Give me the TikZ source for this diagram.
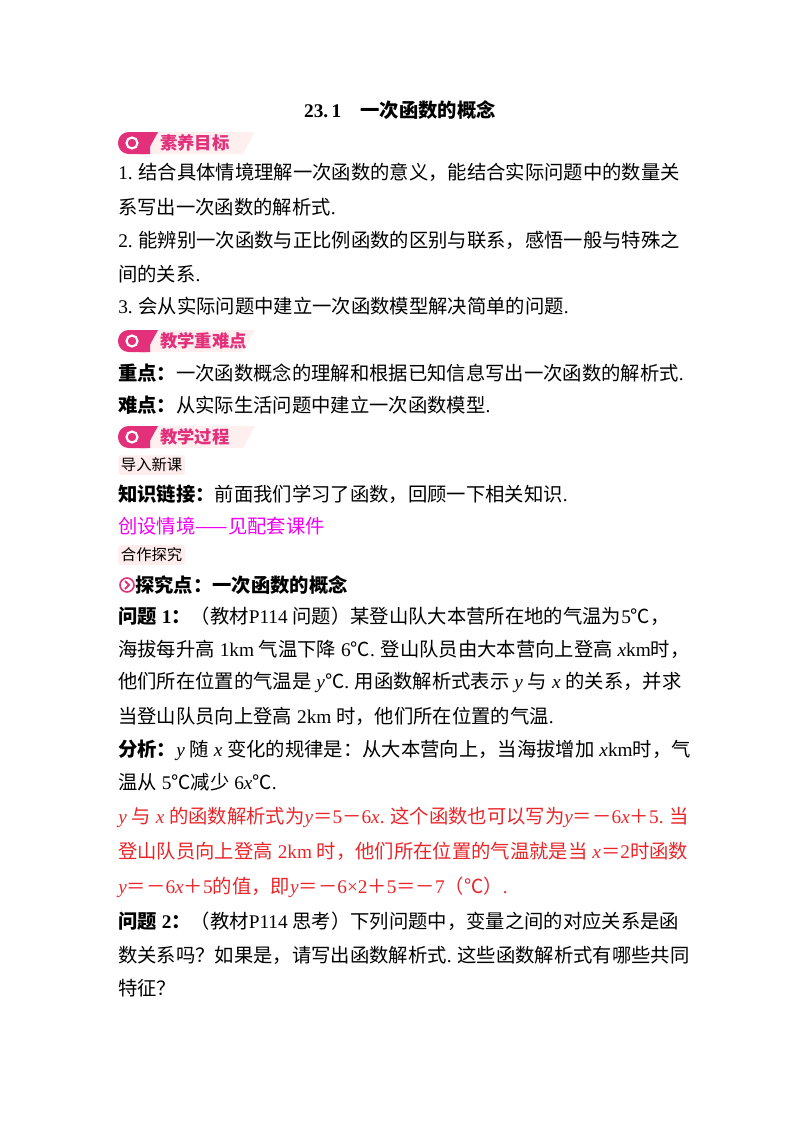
\documentclass[tikz,border=0pt]{standalone}
\usepackage{fontspec}
\setmainfont{Noto Sans CJK SC}
\newfontfamily\lat{Liberation Serif}
\begin{document}
\begin{tikzpicture}[x=0.75pt,y=-0.75pt,
  body/.style={anchor=west,inner sep=0pt,font=\fontsize{14.5}{16}\selectfont},
  tag/.style={anchor=west,inner sep=2pt,fill=pink!30,rounded corners=2pt,font=\fontsize{11.5}{13}\selectfont},
  btxt/.style={anchor=west,inner sep=0pt,text=bmag,font=\fontsize{13}{15}\selectfont\bfseries}]
\definecolor{bmag}{HTML}{E2307A}
\definecolor{vred}{HTML}{E8262A}
\definecolor{vmag}{HTML}{F000F0}
\useasboundingbox (0,0) rectangle (800,1132);
\newcommand\vv[1]{{\lat\itshape #1}}
\newcommand\lt[1]{{\lat #1}}
\newcommand\banner[3]{%
  \fill[pink!25] (140,#1-11) -- (255,#1-11) -- (243,#1+11) -- (140,#1+11) -- cycle;
  \fill[bmag,rounded corners=8pt] (150,#1-11) -- (118,#1-11) -- (118,#1+11) -- (150,#1+11);
  \fill[bmag] (140,#1-11) -- (158,#1-11) -- (146,#1+11) -- (140,#1+11) -- cycle;
  \draw[white,line width=1.6pt] (132,#1) circle (5.5);
  \node[btxt] (#3) at (160,#1) {#2};}
\node[inner sep=0pt,font=\fontsize{14.5}{16}\selectfont\bfseries] (title) at (400,110) {\lt{\textbf{23.\,1}}\quad 一次函数的概念};
\banner{143}{素养目标}{b1}
\node[body] (l1) at (118,172) {\lt{1.} 结合具体情境理解一次函数的意义，能结合实际问题中的数量关};
\node[body] (l2) at (118,207) {系写出一次函数的解析式\lt{.}};
\node[body] (l3) at (118,240) {\lt{2.} 能辨别一次函数与正比例函数的区别与联系，感悟一般与特殊之};
\node[body] (l4) at (118,274) {间的关系\lt{.}};
\node[body] (l5) at (118,306) {\lt{3.} 会从实际问题中建立一次函数模型解决简单的问题\lt{.}};
\banner{341}{教学重难点}{b2}
\node[body] (l6) at (118,373) {\textbf{重点：}一次函数概念的理解和根据已知信息写出一次函数的解析式\lt{.}};
\node[body] (l7) at (118,405) {\textbf{难点：}从实际生活问题中建立一次函数模型\lt{.}};
\banner{437}{教学过程}{b3}
\node[tag] (t1) at (118,465) {导入新课};
\node[body] (l8) at (118,494) {\textbf{知识链接：}前面我们学习了函数，回顾一下相关知识\lt{.}};
\node[body,text=vmag] (l9) at (118,526) {创设情境——见配套课件};
\node[tag] (t2) at (118,555) {合作探究};
\draw[bmag,line width=1.2pt] (127,585) circle (7);
\draw[bmag,line width=1.4pt] (125,581) -- (129,585) -- (125,589);
\node[body] (l10) at (135,585) {\textbf{探究点：一次函数的概念}};
\node[body] (l11) at (118,616) {\textbf{问题\lt{ 1}：}（教材\lt{P114 }问题）某登山队大本营所在地的气温为\lt{5}℃，};
\node[body] (l12) at (118,649) {海拔每升高\lt{ 1km }气温下降\lt{ 6}℃\lt{.} 登山队员由大本营向上登高\lt{ }\vv{x}\lt{km}时，};
\node[body] (l13) at (118,682) {他们所在位置的气温是\lt{ }\vv{y}℃\lt{.} 用函数解析式表示\lt{ }\vv{y}\lt{ }与\lt{ }\vv{x}\lt{ }的关系，并求};
\node[body] (l14) at (118,716) {当登山队员向上登高\lt{ 2km }时，他们所在位置的气温\lt{.}};
\node[body] (l15) at (118,750) {\textbf{分析：}\vv{y}\lt{ }随\lt{ }\vv{x}\lt{ }变化的规律是：从大本营向上，当海拔增加\lt{ }\vv{x}\lt{km}时，气};
\node[body] (l16) at (118,782) {温从\lt{ 5}℃减少\lt{ 6}\vv{x}℃\lt{.}};
\node[body,text=vred] (l17) at (118,817) {\vv{y}\lt{ }与\lt{ }\vv{x}\lt{ }的函数解析式为\vv{y}＝\lt{5}－\lt{6}\vv{x}\lt{.} 这个函数也可以写为\vv{y}＝－\lt{6}\vv{x}＋\lt{5.} 当};
\node[body,text=vred] (l18) at (118,851) {登山队员向上登高\lt{ 2km }时，他们所在位置的气温就是当\lt{ }\vv{x}＝\lt{2}时函数};
\node[body,text=vred] (l19) at (118,887) {\vv{y}＝－\lt{6}\vv{x}＋\lt{5}的值，即\vv{y}＝－\lt{6}\lt{×}\lt{2}＋\lt{5}＝－\lt{7}（℃）\lt{.}};
\node[body] (l20) at (118,921) {\textbf{问题\lt{ 2}：}（教材\lt{P114 }思考）下列问题中，变量之间的对应关系是函};
\node[body] (l21) at (118,955) {数关系吗？如果是，请写出函数解析式\lt{.} 这些函数解析式有哪些共同};
\node[body] (l22) at (118,988) {特征？};
\end{tikzpicture}
\end{document}
